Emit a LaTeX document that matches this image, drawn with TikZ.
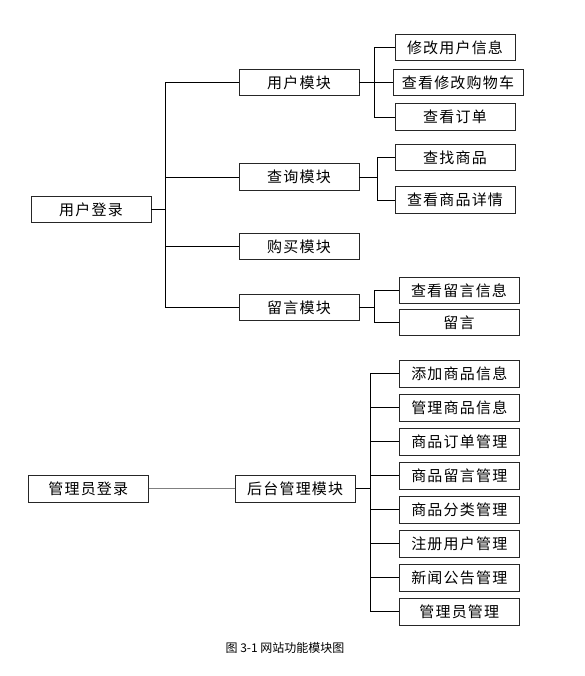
\documentclass[tikz,border=0pt]{standalone}
\usepackage{fontspec}
\setmainfont{Noto Sans CJK SC}
\begin{document}
\begin{tikzpicture}[x=1pt,y=-1pt,
 box/.style={draw=black!85,line width=0.8pt,minimum width=120pt,minimum height=26.5pt,inner sep=0pt,
   font=\fontsize{15}{15}\selectfont\addfontfeature{LetterSpace=8}},
 link/.style={line width=0.7pt}]
 \useasboundingbox (0,0) rectangle (585,676);

 \node[box] (ulogin) at (91,209.5) {用户登录};
 \node[box] (umod) at (299,82.5) {用户模块};
 \node[box] (qmod) at (299,177) {查询模块};
 \node[box] (bmod) at (299,246.5) {购买模块};
 \node[box] (mmod) at (299,307.5) {留言模块};

 \node[box] (c11) at (455,47.3) {修改用户信息};
 \node[box,minimum width=130pt] (c12) at (458,82.5) {查看修改购物车};
 \node[box] (c13) at (455,117) {查看订单};
 \node[box] (c21) at (455,157.3) {查找商品};
 \node[box] (c22) at (455,200) {查看商品详情};
 \node[box] (c41) at (459,290.5) {查看留言信息};
 \node[box] (c42) at (459,322.5) {留言};

 \coordinate (ut) at (165.7,0);
 \draw[line width=1.2pt] (ulogin.east) -- (ulogin.east -| ut);
 \draw[link] (umod.west) -- (umod.west -| ut) -- (mmod.west -| ut) -- (mmod.west);
 \draw[link] (qmod.west) -- (qmod.west -| ut);
 \draw[link] (bmod.west) -- (bmod.west -| ut);

 \coordinate (ub) at (374.3,0);
 \draw[link] (umod.east) -- (c12.west);
 \draw[link] (c11.west) -- (c11.west -| ub) -- (c13.west -| ub) -- (c13.west);

 \coordinate (qb) at (377.3,0);
 \draw[link] (qmod.east) -- (qmod.east -| qb);
 \draw[link] (c21.west) -- (c21.west -| qb) -- (c22.west -| qb) -- (c22.west);

 \coordinate (mb) at (374.3,0);
 \draw[link] (mmod.east) -- (mmod.east -| mb);
 \draw[link] (c41.west) -- (c41.west -| mb) -- (c42.west -| mb) -- (c42.west);

 \node[box] (alogin) at (88.3,488.7) {管理员登录};
 \node[box] (bg) at (295.2,488.7) {后台管理模块};
 \node[box] (a1) at (459.3,373.7) {添加商品信息};
 \node[box] (a2) at (459.3,407.7) {管理商品信息};
 \node[box] (a3) at (459.3,441.7) {商品订单管理};
 \node[box] (a4) at (459.3,475.7) {商品留言管理};
 \node[box] (a5) at (459.3,509.7) {商品分类管理};
 \node[box] (a6) at (459.3,543.7) {注册用户管理};
 \node[box] (a7) at (459.3,577.7) {新闻公告管理};
 \node[box] (a8) at (459.3,611.7) {管理员管理};

 \draw[link,gray] (alogin) -- (bg);
 \coordinate (ab) at (370.5,0);
 \draw[line width=1.5pt] (bg.east) -- (bg.east -| ab);
 \draw[link] (a1.west) -- (a1.west -| ab) -- (a8.west -| ab) -- (a8.west);
 \foreach \i in {2,...,7}
  \draw[link] (a\i.west) -- (a\i.west -| ab);

 \node[font=\fontsize{12}{12}\selectfont] (cap) at (285,647.5) {图 3-1 网站功能模块图};

\end{tikzpicture}
\end{document}
